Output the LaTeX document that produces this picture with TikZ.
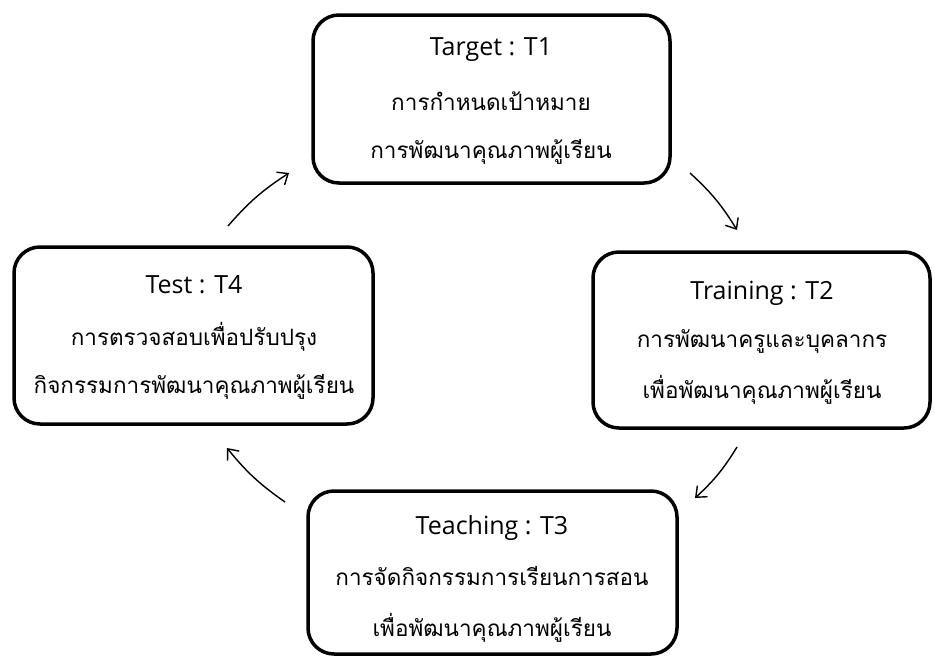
\documentclass[tikz,border=0pt]{standalone}
\usepackage{fontspec}
\setmainfont{Open Sans}
\newfontfamily\thaifont[Script=Thai]{Loma}
\usetikzlibrary{arrows.meta}
\tikzset{
  stagebox/.style={draw=black, line width=3.5pt, rounded corners=26pt},
  titletext/.style={font=\fontsize{25}{30}\selectfont, text=black},
  thaitext/.style={font=\thaifont\fontsize{22.5}{28}\selectfont, text=black},
  cyclearrow/.style={line width=1.4pt, -{Straight Barb[length=9pt,width=15pt,line width=1.4pt]}, bend left=8}
}
\begin{document}
\begin{tikzpicture}[x=1pt,y=-1pt]
\useasboundingbox (0,0) rectangle (935,659);
% boxes
\draw[stagebox] (313,15) rectangle (670,183);
\draw[stagebox] (593,252) rectangle (930,428);
\draw[stagebox] (308,491) rectangle (677,654);
\draw[stagebox] (14,247) rectangle (373,424);
% T1
\node[titletext] (t1title) at (491,50) {Target : T1};
\node[thaitext] (t1a) at (491,101) {การกำหนดเป้าหมาย};
\node[thaitext] (t1b) at (491,152) {การพัฒนาคุณภาพผู้เรียน};
% T2
\node[titletext] (t2title) at (762,293) {Training : T2};
\node[thaitext] (t2a) at (762,341) {การพัฒนาครูและบุคลากร};
\node[thaitext] (t2b) at (762,390) {เพื่อพัฒนาคุณภาพผู้เรียน};
% T3
\node[titletext] (t3title) at (492,528) {Teaching : T3};
\node[thaitext] (t3a) at (492,576) {การจัดกิจกรรมการเรียนการสอน};
\node[thaitext] (t3b) at (492,628) {เพื่อพัฒนาคุณภาพผู้เรียน};
% T4
\node[titletext] (t4title) at (194,285) {Test : T4};
\node[thaitext] (t4a) at (194,337) {การตรวจสอบเพื่อปรับปรุง};
\node[thaitext] (t4b) at (194,387) {กิจกรรมการพัฒนาคุณภาพผู้เรียน};
% arrow endpoints
\coordinate (a1s) at (228,226); \coordinate (a1e) at (289,173);
\coordinate (a2s) at (690,173); \coordinate (a2e) at (737,230);
\coordinate (a3s) at (737,447); \coordinate (a3e) at (695,498);
\coordinate (a4s) at (285,502); \coordinate (a4e) at (227,448);
\draw[cyclearrow] (a1s) to (a1e);
\draw[cyclearrow] (a2s) to (a2e);
\draw[cyclearrow] (a3s) to (a3e);
\draw[cyclearrow] (a4s) to (a4e);
\end{tikzpicture}
\end{document}
